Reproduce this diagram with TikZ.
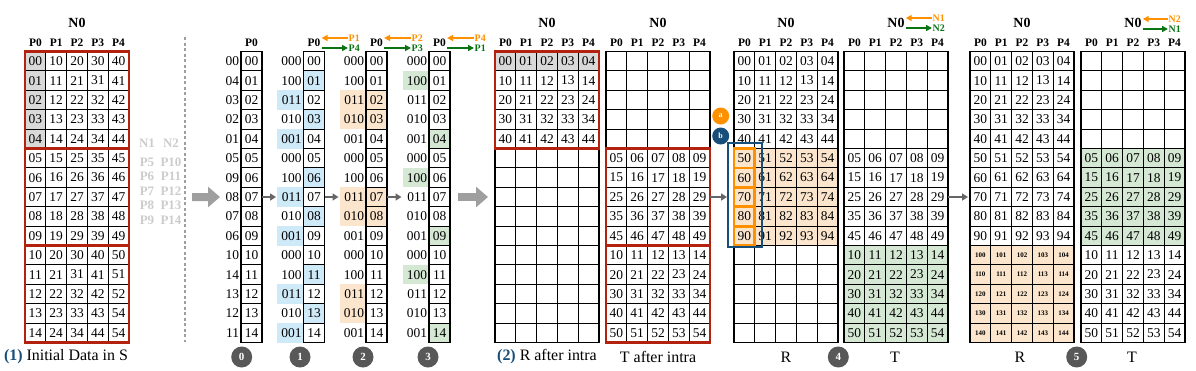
\documentclass[tikz,border=0pt]{standalone}
\usepackage{fontspec}
\setmainfont{Liberation Serif}
\usetikzlibrary{arrows.meta, positioning, calc, backgrounds}
\definecolor{boxred}{RGB}{178, 34, 14}
\definecolor{capblue}{RGB}{24, 78, 122}
\definecolor{arrorange}{RGB}{255, 145, 0}
\definecolor{arrgreen}{RGB}{10, 115, 20}
\definecolor{hlblue}{RGB}{206, 233, 248}
\definecolor{hlpeach}{RGB}{252, 229, 205}
\definecolor{hlgreen}{RGB}{213, 232, 212}
\definecolor{hlgray}{RGB}{217, 217, 217}
\definecolor{numgray}{RGB}{88, 88, 88}

\newcommand{\gridtop}{51.5}
\newcommand{\rowh}{19.4}
\newcommand{\colw}{20.8}
\newcommand{\smallnum}{\fontsize{7}{7}\selectfont\bfseries}
% one 5x15 block of cells with its N0 / P0..P4 titles
\newcommand{\cellgrid}[3]{%
  \node[ntitle] (#1-n) at ({#2+2.5*\colw},23) {N0};
  \foreach \ci in {0,...,4}{
    \node[ptitle] (#1-p\ci) at ({#2+\colw*(\ci+0.5)},43) {P\ci};
    \foreach \ri in {0,...,14}
      \node[cell] (#1-\ci-\ri) at ({#2+\colw*(\ci+0.5)},{\gridtop+\rowh*(\ri+0.5)}) {#3};
  }%
}

\begin{document}
\begin{tikzpicture}[x=1bp, y=-1bp,
  cell/.style={draw, line width=1.1bp, minimum width=20.8bp, minimum height=19.4bp, inner sep=0pt, outer sep=0pt, font=\fontsize{13.5}{13.5}\selectfont},
  colcell/.style={cell, minimum width=21bp},
  lab/.style={minimum height=19.4bp, inner xsep=2bp, inner ysep=0pt, outer sep=0pt, text width=22.5bp, align=right, font=\fontsize{13.5}{13.5}\selectfont},
  ntitle/.style={font=\fontsize{14}{14}\selectfont\bfseries, inner sep=1bp},
  ptitle/.style={font=\fontsize{11.5}{11.5}\selectfont\bfseries, inner sep=1bp},
  olab/.style={anchor=west, text=arrorange, inner sep=0.5bp, font=\fontsize{10}{10}\selectfont\bfseries},
  glab/.style={anchor=west, text=arrgreen, inner sep=0.5bp, font=\fontsize{10}{10}\selectfont\bfseries},
  sidelab/.style={text=gray!40, inner sep=0pt, font=\fontsize{13}{13}\selectfont\bfseries},
  stepnum/.style={circle, fill=numgray, text=white, minimum size=21bp, inner sep=0pt, font=\fontsize{11}{11}\selectfont\bfseries},
  dotlab/.style={circle, text=white, minimum size=17bp, inner sep=0pt, font=\fontsize{8}{8}\selectfont\bfseries},
  captxt/.style={font=\fontsize{16}{17}\selectfont},
  redbox/.style={draw=boxred, line width=2.4bp},
  sarr/.style={-{Triangle[length=6bp, width=7bp]}, line width=1.5bp, gray!80!black},
  bigarr/.style={-{Triangle[length=12bp, width=20bp]}, line width=8bp, gray!75},
  oarr/.style={-{Triangle[length=6bp, width=6bp]}, line width=1.6bp, arrorange},
  garr/.style={-{Triangle[length=6bp, width=6bp]}, line width=1.6bp, arrgreen}
]
  \useasboundingbox (0,0) rectangle (1196,370);

  % (1) initial data
  \cellgrid{S}{25}{\ifnum\ri<10 \ci\ri\else\ifnum\numexpr10*\ri+\ci\relax=134 54\else\the\numexpr\ci+1\relax\the\numexpr\ri-10\relax\fi\fi}
  \draw[redbox] (S-0-0.north west) rectangle (S-4-4.south east);
  \draw[redbox] (S-0-5.north west) rectangle (S-4-9.south east);
  \draw[redbox] (S-0-10.north west) rectangle (S-4-14.south east);
  \node[sidelab] (n1) at (147,143) {N1};
  \node[sidelab] (n2) at (171,143) {N2};
  \foreach \k [evaluate=\k as \pa using int(\k+5), evaluate=\k as \pb using int(\k+10)] in {0,...,4}{
    \node[sidelab] (pa\k) at (147,{162+14.5*\k}) {P\pa};
    \node[sidelab] (pb\k) at (171,{162+14.5*\k}) {P\pb};
  }
  \draw[gray!75, line width=1.5bp, dash pattern=on 3bp off 2.5bp] (185,37) -- (185,342);
  \node[captxt] (cap1) at (66,357) {{\color{capblue}\bfseries(1)} Initial Data in S};

  % single-column steps 0-3
  \foreach \k/\x in {0/241, 1/303.5, 2/366, 3/429}{
    \node[ptitle] (h\k) at ({\x+10.5},43) {P0};
    \foreach \ri in {0,...,14}
      \node[colcell] (c\k-\ri) at ({\x+10.5},{\gridtop+\rowh*(\ri+0.5)}) {\ifnum\ri<10 0\fi\ri};
  }
  \foreach \lt [count=\ri from 0] in {00,04,03,02,01,05,09,08,07,06,10,14,13,12,11}
    \node[lab, text width=17bp] (l0-\ri) [left=0pt of c0-\ri] {\lt};
  \foreach \k in {1,2,3}
    \foreach \lt [count=\ri from 0] in {000,100,011,010,001,000,100,011,010,001,000,100,011,010,001}
      \node[lab] (l\k-\ri) [left=0pt of c\k-\ri] {\lt};
  \foreach \k/\xl/\ol/\gl in {1/348/P1/P4, 2/411/P2/P3, 3/474/P4/P1}{
    \node[olab] (o\k) at (\xl,38) {\ol};
    \node[glab] (g\k) at (\xl,48) {\gl};
    \draw[oarr] (o\k.west) -- (o\k.west -| h\k.east);
    \draw[garr] (g\k.west -| h\k.east) -- (g\k.west);
  }
  \node[stepnum] (s0) at (241.7,357) {0};
  \node[stepnum] (s1) at (300,357) {1};
  \node[stepnum] (s2) at (363,357) {2};
  \node[stepnum] (s3) at (428,357) {3};

  % (2) R and T after intra
  \cellgrid{R1}{495}{\ifnum\ri<5 \ri\ci\fi}
  \cellgrid{T1}{606}{\ifnum\ri>4 \ifnum\ri<10 \the\numexpr\ri-5\relax\the\numexpr\ci+5\relax\else\the\numexpr\ri-9\relax\ci\fi\fi}
  \draw[redbox] (R1-0-0.north west) rectangle (R1-4-4.south east);
  \draw[redbox] (T1-0-5.north west) rectangle (T1-4-9.south east);
  \draw[redbox] (T1-0-10.north west) rectangle (T1-4-14.south east);
  \node[captxt] (cap2) at (547,357) {{\color{capblue}\bfseries(2)} R after intra};
  \node[captxt] (cap3) at (658,357) {T after intra};
  \node[dotlab, fill=arrorange] (dota) at (720.7,116) {a};
  \node[dotlab, fill=capblue] (dotb) at (720.7,136) {b};

  % step 4
  \cellgrid{R4}{734}{\ifnum\ri<10 \ri\ci\fi}
  \cellgrid{T4}{844}{\ifnum\ri>4 \ifnum\ri<10 \the\numexpr\ri-5\relax\the\numexpr\ci+5\relax\else\the\numexpr\ri-9\relax\ci\fi\fi}
  \foreach \ri in {5,...,9}
    \draw[arrorange, line width=2.8bp] (R4-0-\ri.north west) rectangle (R4-0-\ri.south east);
  \draw[capblue, line width=2.4bp] ([shift={(-6,-5.5)}]R4-0-5.north west) rectangle ([shift={(7,1.5)}]R4-0-9.south east);
  \node[olab] (t4o) at (932,18) {N1};
  \node[glab] (t4g) at (932,28) {N2};
  \draw[oarr] (t4o.west) -- (t4o.west -| T4-n.east);
  \draw[garr] (t4g.west -| T4-n.east) -- (t4g.west);
  \node[captxt] (cap4) at (786,357) {R};
  \node[captxt] (cap5) at (895,357) {T};
  \node[stepnum] (s4) at (838.3,357) {4};

  % step 5
  \cellgrid{R5}{970}{\ifnum\ri<10 \ri\ci\else{\smallnum 1\the\numexpr\ri-10\relax\ci}\fi}
  \cellgrid{T5}{1081}{\ifnum\ri>4 \ifnum\ri<10 \the\numexpr\ri-5\relax\the\numexpr\ci+5\relax\else\the\numexpr\ri-9\relax\ci\fi\fi}
  \node[olab] (t5o) at (1168,19) {N2};
  \node[glab] (t5g) at (1168,29) {N1};
  \draw[oarr] (t5o.west) -- (t5o.west -| T5-n.east);
  \draw[garr] (t5g.west -| T5-n.east) -- (t5g.west);
  \node[captxt] (cap6) at (1020,357) {R};
  \node[captxt] (cap7) at (1132,357) {T};
  \node[stepnum] (s5) at (1076.7,357) {5};

  % arrows between steps
  \coordinate (in0) at (192,197);
  \draw[bigarr] (in0) -- (l0-7.west);
  \draw[sarr, shorten >=1bp] (c0-7.east) -- (l1-7.west);
  \draw[sarr, shorten >=1bp] (c1-7.east) -- (l2-7.west);
  \draw[sarr, shorten >=1bp] (c2-7.east) -- (l3-7.west);
  \draw[bigarr, shorten <=8bp, shorten >=7bp] (c3-7.east) -- (R1-0-7.west);
  \draw[sarr, shorten >=7bp] (T1-4-7.east) -- (R4-0-7.west);
  \draw[sarr, shorten >=2bp] (T4-4-7.east) -- (R5-0-7.west);

  % highlights
  \begin{scope}[on background layer]
    \fill[hlgray] (S-0-0.north west) rectangle (S-0-4.south east);
    \fill[hlgray] (R1-0-0.north west) rectangle (R1-4-0.south east);
    \foreach \ri in {1,3,6,8,11,13} \fill[hlblue] (c1-\ri.north west) rectangle (c1-\ri.south east);
    \foreach \ri in {2,4,7,9,12,14} \fill[hlblue] (l1-\ri.north west) rectangle (l1-\ri.south east);
    \foreach \ri in {2,3,7,8} \fill[hlpeach] (c2-\ri.north west) rectangle (c2-\ri.south east);
    \foreach \ri in {2,3,7,8,12,13} \fill[hlpeach] (l2-\ri.north west) rectangle (l2-\ri.south east);
    \foreach \ri in {4,9,14} \fill[hlgreen] (c3-\ri.north west) rectangle (c3-\ri.south east);
    \foreach \ri in {1,6,11} \fill[hlgreen] (l3-\ri.north west) rectangle (l3-\ri.south east);
    \fill[hlpeach] (R4-0-5.north west) rectangle (R4-4-9.south east);
    \fill[hlgreen] (T4-0-10.north west) rectangle (T4-4-14.south east);
    \fill[hlpeach] (R5-0-10.north west) rectangle (R5-4-14.south east);
    \fill[hlgreen] (T5-0-5.north west) rectangle (T5-4-9.south east);
  \end{scope}
\end{tikzpicture}
\end{document}
